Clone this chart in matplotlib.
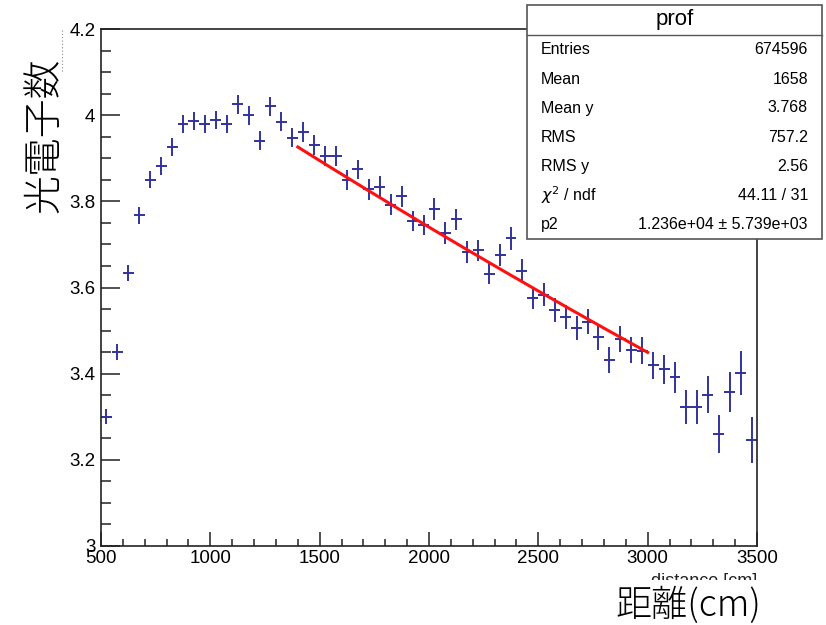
import numpy as np
import matplotlib
matplotlib.use("Agg")
import matplotlib.pyplot as plt
from matplotlib.patches import Rectangle
from matplotlib.lines import Line2D
from matplotlib.ticker import MultipleLocator, FormatStrFormatter

# ===============================
# DATA
# ===============================
bin_centers = [525, 575, 625, 675, 725, 775, 825, 875, 925, 975,
               1025, 1075, 1125, 1175, 1225, 1275, 1325, 1375, 1425, 1475,
               1525, 1575, 1625, 1675, 1725, 1775, 1825, 1875, 1925, 1975,
               2025, 2075, 2125, 2175, 2225, 2275, 2325, 2375, 2425, 2475,
               2525, 2575, 2625, 2675, 2725, 2775, 2825, 2875, 2925, 2975,
               3025, 3075, 3125, 3175, 3225, 3275, 3325, 3375, 3425, 3475]
bin_half_width = 25

photoelectrons = [3.300, 3.450, 3.633, 3.768, 3.850, 3.882, 3.927, 3.980, 3.987, 3.979,
                  3.989, 3.979, 4.025, 4.000, 3.941, 4.021, 3.985, 3.948, 3.961, 3.931,
                  3.905, 3.905, 3.850, 3.874, 3.828, 3.834, 3.792, 3.812, 3.754, 3.745,
                  3.782, 3.727, 3.758, 3.683, 3.686, 3.632, 3.676, 3.714, 3.639, 3.575,
                  3.583, 3.548, 3.531, 3.505, 3.521, 3.484, 3.432, 3.480, 3.455, 3.453,
                  3.419, 3.410, 3.392, 3.323, 3.323, 3.351, 3.259, 3.358, 3.402, 3.246]

errors = [0.017, 0.019, 0.019, 0.020, 0.020, 0.020, 0.021, 0.021, 0.021, 0.021,
          0.021, 0.021, 0.022, 0.022, 0.022, 0.022, 0.022, 0.022, 0.023, 0.023,
          0.023, 0.023, 0.023, 0.023, 0.024, 0.024, 0.024, 0.024, 0.024, 0.024,
          0.025, 0.025, 0.025, 0.025, 0.025, 0.025, 0.026, 0.026, 0.026, 0.026,
          0.027, 0.027, 0.028, 0.028, 0.029, 0.029, 0.030, 0.030, 0.031, 0.031,
          0.032, 0.033, 0.036, 0.039, 0.040, 0.043, 0.044, 0.046, 0.051, 0.053]

# fit: p0 * exp(-x / p2) over 1400..3000
fit_p0 = 4.397
fit_p2 = 1.236e4
fit_range = (1400, 3000)

stat_labels = ["Entries", "Mean", "Mean y", "RMS", "RMS y", r"$\chi^{2}$ / ndf", "p2"]
stat_values = ["674596", "1658", "3.768", "757.2", "2.56", "44.11 / 31",
               "1.236e+04 \u00b1 5.739e+03"]

# ===============================
# FIGURE
# ===============================
W, H = 826, 625
fig = plt.figure(figsize=(W / 100, H / 100), dpi=100)
ax = fig.add_axes([101 / W, 1 - 546 / H, 656 / W, 517 / H])

blue = "#32329e"
ax.errorbar(bin_centers, photoelectrons, xerr=bin_half_width, yerr=errors,
            fmt="none", ecolor=blue, elinewidth=1.4, capsize=0)

fx = np.linspace(fit_range[0], fit_range[1], 200)
ax.plot(fx, fit_p0 * np.exp(-fx / fit_p2), color="#ff1010", lw=2.2)

ax.set_xlim(500, 3500)
ax.set_ylim(3.0, 4.2)

ax.xaxis.set_major_locator(MultipleLocator(500))
ax.xaxis.set_minor_locator(MultipleLocator(100))
ax.yaxis.set_major_locator(MultipleLocator(0.2))
ax.yaxis.set_minor_locator(MultipleLocator(0.05))
ax.yaxis.set_major_formatter(FormatStrFormatter("%g"))

ax.tick_params(axis="both", which="both", direction="in", top=False, right=False,
               color="#333333", width=1.2)
ax.tick_params(axis="x", which="major", length=10, pad=3)
ax.tick_params(axis="x", which="minor", length=5)
ax.tick_params(axis="y", which="major", length=14, pad=4)
ax.tick_params(axis="y", which="minor", length=7)
for lab in ax.get_xticklabels() + ax.get_yticklabels():
    lab.set_fontfamily("Liberation Sans")
    lab.set_fontsize(13.5)
for sp in ax.spines.values():
    sp.set_linewidth(1.2)
    sp.set_color("#222222")

# ===============================
# ORIGINAL ROOT X TITLE (half covered)
# ===============================
fig.text(757 / W, 1 - 582 / H, "distance [cm]", ha="right", va="center",
         fontsize=13, family="Liberation Sans", color="#222222")
fig.add_artist(Rectangle((560 / W, 0), 266 / W, 1 - 580 / H,
                         transform=fig.transFigure, facecolor="white",
                         edgecolor="none", zorder=10))

# ===============================
# JAPANESE AXIS LABELS
# ===============================
jp = ["Noto Sans CJK JP", "DejaVu Sans"]
fig.text(688 / W, 1 - 606 / H, "距離(cm)", ha="center", va="center",
         fontsize=26, family=jp, weight="light", zorder=11)
fig.text(45 / W, 1 - 135 / H, "光電子数", ha="center", va="center",
         rotation=90, fontsize=28, family=jp, weight="light", zorder=11)
fig.add_artist(Line2D([62 / W, 62 / W], [1 - 30 / H, 1 - 72 / H],
                      transform=fig.transFigure, color="#888888",
                      lw=0.8, ls=(0, (1, 2)), zorder=11))

# ===============================
# STAT BOX
# ===============================
bx0, bx1, by0, by1 = 527, 822, 5, 239
fig.add_artist(Rectangle((bx0 / W, 1 - by1 / H), (bx1 - bx0) / W, (by1 - by0) / H,
                         transform=fig.transFigure, facecolor="white",
                         edgecolor="#555555", lw=1.2, zorder=12))
fig.add_artist(Line2D([bx0 / W, bx1 / W], [1 - 35 / H, 1 - 35 / H],
                      transform=fig.transFigure, color="#555555", lw=1.0, zorder=13))
fig.text((bx0 + bx1) / 2 / W, 1 - 20 / H, "prof", ha="center", va="center",
         fontsize=16, family="Liberation Sans", zorder=13)
for i, (lab, val) in enumerate(zip(stat_labels, stat_values)):
    yy = 1 - (50 + 29 * i) / H
    fig.text(541 / W, yy, lab, ha="left", va="center", fontsize=11.5,
             family="Liberation Sans", zorder=13)
    fig.text(808 / W, yy, val, ha="right", va="center", fontsize=11.5,
             family="Liberation Sans", zorder=13)

fig.savefig("out.png", dpi=100)
